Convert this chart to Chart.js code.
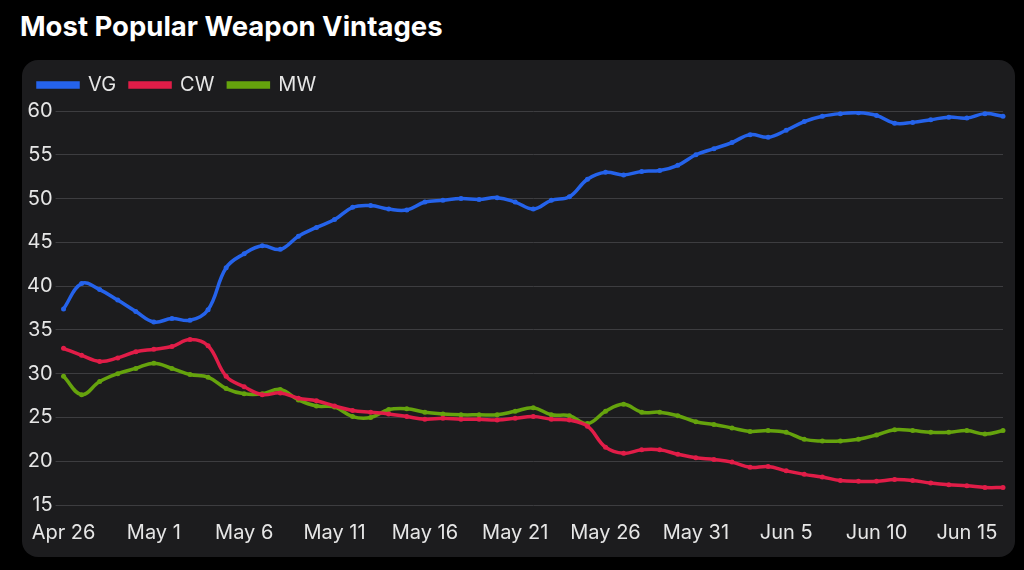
<!DOCTYPE html>
<html>
<head>
<meta charset="utf-8">
<script src="https://cdn.jsdelivr.net/npm/chart.js@4"></script>
<style>
  html, body { margin: 0; padding: 0; background: #000; }
  body { width: 1024px; height: 570px; position: relative; overflow: hidden; font-family: Inter, "Noto Sans", sans-serif; }
  #title { position: absolute; left: 20px; top: 9px; color: #fff; font-weight: 700; font-size: 27.5px; letter-spacing: 0px; }
  #card { position: absolute; left: 22px; top: 60px; width: 993px; height: 497px; background: #1c1c1e; border-radius: 16px; }
  #wrap { position: absolute; left: 0; top: 0; width: 993px; height: 497px; }
</style>
</head>
<body>
<div id="title">Most Popular Weapon Vintages</div>
<div id="card"><div id="wrap"><canvas id="mycanvas"></canvas></div></div>
<script>
var dates = [
  "Apr 26","Apr 27","Apr 28","Apr 29","Apr 30",
  "May 1","May 2","May 3","May 4","May 5","May 6","May 7","May 8","May 9","May 10",
  "May 11","May 12","May 13","May 14","May 15","May 16","May 17","May 18","May 19","May 20",
  "May 21","May 22","May 23","May 24","May 25","May 26","May 27","May 28","May 29","May 30","May 31",
  "Jun 1","Jun 2","Jun 3","Jun 4","Jun 5","Jun 6","Jun 7","Jun 8","Jun 9","Jun 10",
  "Jun 11","Jun 12","Jun 13","Jun 14","Jun 15","Jun 16","Jun 17"
];

var vg = [
  37.4, 40.3, 39.6, 38.4, 37.1, 35.9, 36.3, 36.1, 37.3, 42.1,
  43.7, 44.6, 44.2, 45.7, 46.7, 47.6, 49.0, 49.2, 48.8, 48.7,
  49.6, 49.8, 50.0, 49.9, 50.1, 49.6, 48.8, 49.8, 50.2, 52.2,
  53.0, 52.7, 53.1, 53.2, 53.8, 55.0, 55.7, 56.4, 57.3, 57.0,
  57.8, 58.8, 59.4, 59.7, 59.8, 59.5, 58.6, 58.7, 59.0, 59.3,
  59.2, 59.7, 59.4
];
var cw = [
  32.9, 32.1, 31.4, 31.8, 32.5, 32.8, 33.1, 33.9, 33.2, 29.7,
  28.5, 27.6, 27.8, 27.2, 26.9, 26.3, 25.8, 25.6, 25.4, 25.1,
  24.8, 24.9, 24.8, 24.8, 24.7, 24.9, 25.1, 24.8, 24.7, 24.0,
  21.6, 20.9, 21.3, 21.3, 20.8, 20.4, 20.2, 19.9, 19.3, 19.4,
  18.9, 18.5, 18.2, 17.8, 17.7, 17.7, 17.9, 17.8, 17.5, 17.3,
  17.2, 17.0, 17.0
];
var mw = [
  29.7, 27.6, 29.1, 30.0, 30.6, 31.2, 30.6, 29.9, 29.6, 28.3,
  27.7, 27.7, 28.2, 27.0, 26.3, 26.2, 25.1, 25.0, 25.9, 26.0,
  25.6, 25.4, 25.3, 25.3, 25.3, 25.7, 26.1, 25.3, 25.2, 24.3,
  25.7, 26.5, 25.6, 25.6, 25.2, 24.5, 24.2, 23.8, 23.4, 23.5,
  23.3, 22.5, 22.3, 22.3, 22.5, 23.0, 23.6, 23.5, 23.3, 23.3,
  23.5, 23.1, 23.5
];
var yTicks = [15, 20, 25, 30, 35, 40, 45, 50, 55, 60];

var textColor = '#e6e6e6';
var fontFamily = 'Inter, "Noto Sans", sans-serif';

function series(name, values, color) {
  return {
    label: name,
    data: values,
    borderColor: color,
    backgroundColor: color,
    borderWidth: 3.5,
    pointRadius: 2.5,
    pointBorderWidth: 0,
    pointBackgroundColor: color,
    tension: 0.4
  };
}

// push the plot a few pixels away from the legend
var legendGap = {
  id: 'legendGap',
  beforeInit: function(chart) {
    var fit = chart.legend.fit;
    chart.legend.fit = function() {
      fit.bind(chart.legend)();
      this.height += 6;
    };
  }
};

var ctx = document.getElementById('mycanvas');
var chart = new Chart(ctx, {
  type: 'line',
  data: {
    labels: dates,
    datasets: [
      series('VG', vg, '#2563eb'),
      series('CW', cw, '#e11d48'),
      series('MW', mw, '#65a30d')
    ]
  },
  plugins: [legendGap],
  options: {
    responsive: true,
    maintainAspectRatio: false,
    animation: false,
    layout: { padding: { top: 1, left: 2, right: 12, bottom: 4 } },
    plugins: {
      legend: {
        position: 'top',
        align: 'start',
        labels: {
          color: textColor,
          font: { family: fontFamily, size: 20 },
          boxWidth: 40,
          boxHeight: 4,
          padding: 14
        }
      },
      tooltip: { enabled: false }
    },
    scales: {
      x: {
        grid: { display: false },
        border: { display: false },
        ticks: {
          color: textColor,
          font: { family: fontFamily, size: 20 },
          autoSkip: false,
          maxRotation: 0,
          padding: 8,
          callback: function(v, i) { return i % 5 === 0 ? dates[i] : null; }
        }
      },
      y: {
        min: yTicks[0],
        max: yTicks[yTicks.length - 1],
        afterBuildTicks: function(axis) {
          axis.ticks = yTicks.map(function(v) { return { value: v }; });
        },
        grid: { color: '#3d3d40', lineWidth: 1, tickLength: 8 },
        border: { display: false },
        ticks: {
          color: textColor,
          font: { family: fontFamily, size: 20 },
          padding: 3
        }
      }
    }
  }
});
</script>
</body>
</html>
